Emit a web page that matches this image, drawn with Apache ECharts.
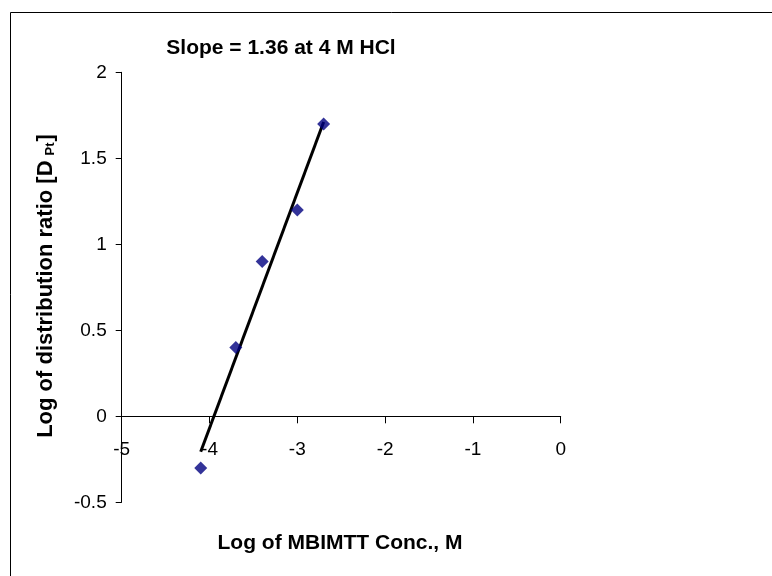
<!DOCTYPE html>
<html><head><meta charset="utf-8">
<script src="https://cdn.jsdelivr.net/npm/echarts@6/dist/echarts.min.js"></script>
<style>html,body{margin:0;padding:0;background:#fff}#c{width:772px;height:576px}</style>
</head><body><div id="c"></div>
<script>
// Data
const logConc = [-4.1, -3.7, -3.4, -3.0, -2.7];
const logD = [-0.3, 0.4, 0.9, 1.2, 1.7];
const xAxisRange = [-5, 0];
const yAxisRange = [-0.5, 2];
const titleText = 'Slope = 1.36 at 4 M HCl';
const xTitle = 'Log of MBIMTT Conc., M';
const yTitleMain = 'Log of distribution ratio [D';
const yTitleSub = 'Pt';

// Linear trendline (least squares) from the data
const n = logConc.length;
const mx = logConc.reduce((a, b) => a + b, 0) / n;
const my = logD.reduce((a, b) => a + b, 0) / n;
let sxy = 0, sxx = 0;
for (let i = 0; i < n; i++) { sxy += (logConc[i] - mx) * (logD[i] - my); sxx += (logConc[i] - mx) ** 2; }
const slope = sxy / sxx, intercept = my - slope * mx;
const xMin = Math.min(...logConc), xMax = Math.max(...logConc);
const trend = [[xMin, slope * xMin + intercept], [xMax, slope * xMax + intercept]];

const FONT = '"Liberation Sans", Arial, sans-serif';
const chart = echarts.init(document.getElementById('c'), null, { renderer: 'canvas' });
chart.setOption({
  backgroundColor: '#fff',
  animation: false,
  grid: { left: 121.7, right: 211.3, top: 72.3, bottom: 73.7, containLabel: false },
  xAxis: {
    type: 'value', min: xAxisRange[0], max: xAxisRange[1], interval: 1,
    axisLine: { onZero: true, lineStyle: { color: '#000', width: 1 } },
    axisTick: { show: true, inside: false, length: 7, lineStyle: { color: '#000' } },
    axisLabel: { color: '#000', fontFamily: FONT, fontSize: 19, margin: -62 },
    splitLine: { show: false }
  },
  yAxis: {
    type: 'value', min: yAxisRange[0], max: yAxisRange[1], interval: 0.5,
    axisLine: { show: true, onZero: false, lineStyle: { color: '#000', width: 1 } },
    axisTick: { show: true, inside: false, length: 6, lineStyle: { color: '#000' } },
    axisLabel: { color: '#000', fontFamily: FONT, fontSize: 19, margin: 15 },
    splitLine: { show: false }
  },
  series: [
    {
      type: 'line', data: trend, showSymbol: false, symbol: 'none',
      lineStyle: { color: '#000', width: 3 }, z: 2, silent: true
    },
    {
      type: 'scatter', data: logConc.map((x, i) => [x, logD[i]]),
      symbol: 'diamond', symbolSize: [13, 13],
      itemStyle: { color: '#000080' }, z: 3
    }
  ],
  graphic: [
    { type: 'rect', shape: { x: 10.5, y: 12.5, width: 800, height: 600 },
      style: { fill: 'none', stroke: '#000', lineWidth: 1 }, silent: true },
    { type: 'text', x: 281, y: 48,
      style: { text: titleText, font: 'bold 21px ' + FONT, fill: '#000', align: 'center', verticalAlign: 'middle' } },
    { type: 'text', x: 340, y: 543,
      style: { text: xTitle, font: 'bold 21px ' + FONT, fill: '#000', align: 'center', verticalAlign: 'middle' } },
    { type: 'text', x: 46, y: 286, rotation: Math.PI / 2,
      style: {
        text: '{a|' + yTitleMain + '}{b|' + yTitleSub + '}{a|]}',
        align: 'center', verticalAlign: 'middle', fill: '#000',
        rich: {
          a: { font: 'bold 22px ' + FONT, fill: '#000' },
          b: { font: 'bold 13px ' + FONT, fill: '#000', verticalAlign: 'bottom', padding: [0, 1, 0, 5] }
        }
      } }
  ]
});
</script>
</body></html>
